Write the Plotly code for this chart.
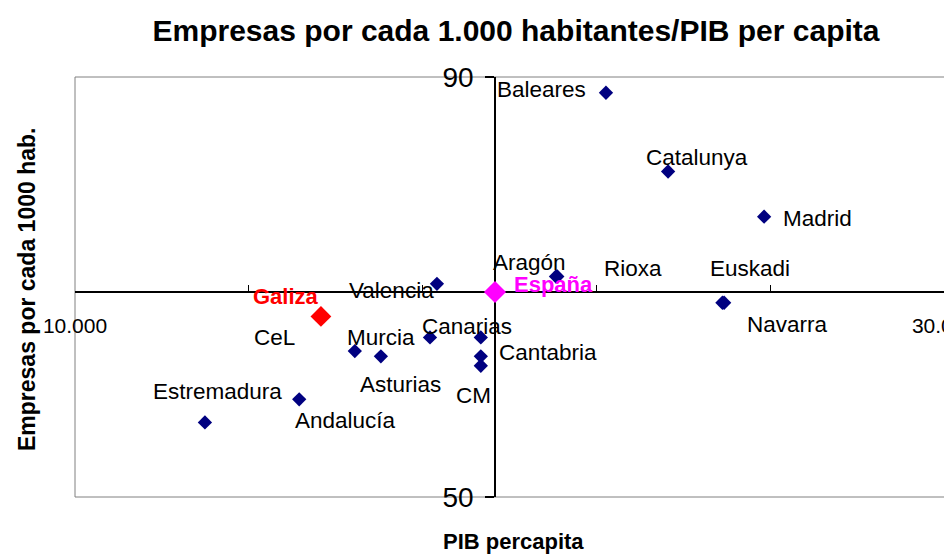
import plotly.graph_objects as go

# ---- data ----
regions = ["Baleares", "Catalunya", "Madrid", "Aragón", "Rioxa", "Euskadi", "Navarra",
           "Valencia", "CeL", "Murcia", "Canarias", "Cantabria", "Asturias", "CM",
           "Andalucía", "Estremadura"]
pib = [22220, 23650, 25860, 21070, 21100, 24940, 24900,
       18330, 16440, 17040, 18170, 19340, 19340, 19340,
       15160, 12990]
empresas = [88.5, 81.0, 76.7, 71.0, 71.0, 68.5, 68.5,
            70.3, 63.9, 63.4, 65.2, 65.2, 63.4, 62.5,
            59.3, 57.1]

galiza_pib, galiza_emp = [15660], [67.2]
espana_pib, espana_emp = [19666], [69.52]

x_range = [10000, 30000]
y_range = [50, 90]
x_tickvals = [10000, 30000]
x_ticktext = ["10.000", "30.000"]
y_tickvals = [50, 90]
y_ticktext = ["50", "90"]

# label offsets in pixels (dx right, dy down) relative to each point
label_offsets = {
    "Baleares": (-64, -3), "Catalunya": (29, -14), "Madrid": (53, 2),
    "Aragón": (-26, -14), "Rioxa": (76, -8), "Euskadi": (26, -34),
    "Navarra": (65, 22), "Valencia": (-45, 7), "CeL": (-80, -14),
    "Murcia": (0, -19), "Canarias": (37, -11), "Cantabria": (67, 15),
    "Asturias": (-80, 28), "CM": (-7, 30), "Andalucía": (46, 21),
    "Estremadura": (13, -31),
}
galiza_offset = (-35, -20)
espana_offset = (59, -8)

FONT = "Liberation Sans, Arial, sans-serif"

fig = go.Figure()
fig.add_trace(go.Scatter(x=pib, y=empresas, mode="markers",
                         marker=dict(symbol="diamond", size=11, color="#000080"),
                         hoverinfo="text", text=regions, showlegend=False))
fig.add_trace(go.Scatter(x=galiza_pib, y=galiza_emp, mode="markers",
                         marker=dict(symbol="diamond", size=16, color="#FF0000"),
                         showlegend=False))
fig.add_trace(go.Scatter(x=espana_pib, y=espana_emp, mode="markers",
                         marker=dict(symbol="diamond", size=17, color="#FF00FF"),
                         showlegend=False))

annotations = []
for name, xv, yv in zip(regions, pib, empresas):
    dx, dy = label_offsets[name]
    annotations.append(dict(x=xv, y=yv, xref="x", yref="y", text=name, showarrow=False,
                            xanchor="center", yanchor="middle", xshift=dx, yshift=-dy,
                            font=dict(family=FONT, size=22.5, color="#000000")))
annotations.append(dict(x=galiza_pib[0], y=galiza_emp[0], text="<b>Galiza</b>", showarrow=False,
                        xanchor="center", yanchor="middle", xshift=galiza_offset[0],
                        yshift=-galiza_offset[1], font=dict(family=FONT, size=22, color="#FF0000")))
annotations.append(dict(x=espana_pib[0], y=espana_emp[0], text="<b>España</b>", showarrow=False,
                        xanchor="center", yanchor="middle", xshift=espana_offset[0],
                        yshift=-espana_offset[1], font=dict(family=FONT, size=22, color="#FF00FF")))
# axis titles
annotations.append(dict(x=0.5, y=0, xref="paper", yref="paper", text="<b>PIB percapita</b>",
                        showarrow=False, xanchor="center", yanchor="middle", yshift=-44, xshift=4,
                        font=dict(family=FONT, size=22, color="#000000")))
annotations.append(dict(x=0, y=0.5, xref="paper", yref="paper", text="<b>Empresas por cada 1000 hab.</b>",
                        showarrow=False, xanchor="center", yanchor="middle", xshift=-48, yshift=-3,
                        textangle=-90, font=dict(family=FONT, size=23, color="#000000")))

# axes cross at the Spain point
x_pos = (espana_emp[0] - y_range[0]) / (y_range[1] - y_range[0])
y_pos = (espana_pib[0] - x_range[0]) / (x_range[1] - x_range[0])

fig.update_layout(
    template="none",
    width=944, height=554,
    margin=dict(l=75, r=0, t=77, b=57),
    paper_bgcolor="white", plot_bgcolor="white",
    title=dict(text="<b>Empresas por cada 1.000 habitantes/PIB per capita</b>",
               x=516 / 944, xanchor="center", y=1 - 30 / 554, yanchor="middle",
               font=dict(family=FONT, size=30, color="#000000")),
    xaxis=dict(range=x_range, anchor="free", position=x_pos, showgrid=False, zeroline=False,
               showline=True, linecolor="#000000", linewidth=1.5, layer="below traces",
               tickvals=x_tickvals, ticktext=x_ticktext, ticks="inside", ticklen=6,
               tickcolor="#000000", tickwidth=1, ticklabeloverflow="allow",
               minor=dict(dtick=4000, tick0=10000, ticks="inside", ticklen=6,
                          tickcolor="#000000", tickwidth=1, showgrid=False),
               ticklabelstandoff=15,
               tickfont=dict(family=FONT, size=21, color="#000000"), automargin=False),
    yaxis=dict(range=y_range, anchor="free", position=y_pos, showgrid=False, zeroline=False,
               showline=True, linecolor="#000000", linewidth=1.5, layer="below traces",
               tickvals=y_tickvals, ticktext=y_ticktext, ticks="outside", ticklen=9,
               tickcolor="#000000", tickwidth=1.5, ticklabelstandoff=6,
               tickfont=dict(family=FONT, size=28, color="#000000"), automargin=False),
    annotations=annotations,
    shapes=[dict(type="rect", xref="paper", yref="paper", x0=0, x1=1.01, y0=0, y1=1,
                 line=dict(color="#808080", width=1), layer="below")],
)

fig.write_html("out.html", config={"displayModeBar": False},
               post_script="document.body.style.margin='0';document.body.style.overflow='hidden';")
